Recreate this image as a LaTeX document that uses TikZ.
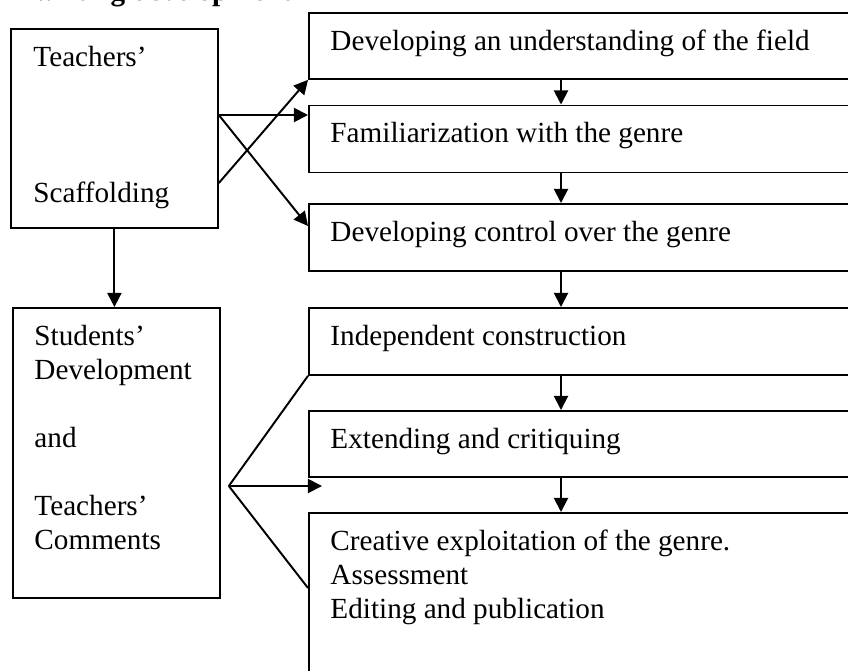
\documentclass[tikz,border=0pt]{standalone}
\usepackage{fontspec}
\setmainfont{Liberation Serif}
\usetikzlibrary{calc,arrows.meta}

\begin{document}
\begin{tikzpicture}[x=0.411pt, y=-0.411pt]
%styles
\tikzstyle{stage}=[rectangle, draw, line width=0.75pt, anchor=north west, inner sep=0pt, minimum width=600*0.411pt]
\tikzstyle{side}=[rectangle, draw, line width=0.75pt, anchor=north west, inner sep=0pt, minimum width=207*0.411pt]
\tikzstyle{boxtext}=[anchor=north west, inner sep=0pt, align=left, font=\fontsize{12}{14}\selectfont]
\tikzstyle{link}=[-{Triangle[length=5.8pt, width=5.8pt]}, line width=0.8pt]
\tikzstyle{plain}=[line width=0.8pt]

\useasboundingbox (0,0) rectangle (848,670);
\clip (0,0) rectangle (848,670);

%title, cut at the top
\node[anchor=base west, inner sep=0pt, font=\fontsize{12}{14}\selectfont\bfseries] (title) at (34,0.5) {writing development};

%left boxes
\node[side, minimum height=199*0.411pt] (scaf) at (10,28) {};
\node[side, minimum height=290*0.411pt] (stud) at (12,307) {};
\node[boxtext] (scaft) at ($(scaf.north west)+(23,14)$) {\strut Teachers'\\[42pt]Scaffolding};
\node[boxtext] (studt) at ($(stud.north west)+(22,14)$) {\strut Students'\\Development\\[14pt]and\\[14pt]Teachers'\\Comments};

%stages
\node[stage, minimum height=66*0.411pt] (field) at (308,12) {};
\node[stage, minimum height=67*0.411pt] (genre) at (308,104.5) {};
\node[stage, minimum height=67*0.411pt] (control) at (308,203) {};
\node[stage, minimum height=67*0.411pt] (indep) at (308,307) {};
\node[stage, minimum height=66*0.411pt] (crit) at (308,410) {};
\node[stage, minimum height=300*0.411pt] (creat) at (308,512) {};

\node[boxtext] (fieldt) at ($(field.north west)+(22,14)$) {\strut Developing an understanding of the field};
\node[boxtext] (genret) at ($(genre.north west)+(22,14)$) {\strut Familiarization with the genre};
\node[boxtext] (controlt) at ($(control.north west)+(22,14)$) {\strut Developing control over the genre};
\node[boxtext] (indept) at ($(indep.north west)+(22,14)$) {\strut Independent construction};
\node[boxtext] (critt) at ($(crit.north west)+(22,14)$) {\strut Extending and critiquing};
\node[boxtext] (creatt) at ($(creat.north west)+(22,14)$) {\strut Creative exploitation of the genre.\\Assessment\\Editing and publication};

%scaffolding arrows
\coordinate (s1) at ($(scaf.north east)+(0,87)$);
\coordinate (s2) at ($(scaf.north east)+(0,155)$);
\draw[link] (s1) -- (s1 -| genre.west);
\draw[link] (s1) -- ($(control.north west)+(0,23)$);
\draw[link] (s2) -- (field.south west);
\draw[link] (scaf.south) -- (scaf.south |- stud.north);

%stage to stage
\foreach \a/\b in {field/genre, genre/control, control/indep, indep/crit, crit/creat}
  \draw[link] ($(\a.south west)+(253,0)$) -- ($(\b.north west)+(253,0)$);

%students' fan
\coordinate (fan) at ($(stud.north east)+(8,179)$);
\coordinate (gap) at ($(fan -| crit.west)+(14,0)$);
\draw[plain] (fan) -- (indep.south west);
\draw[link] (fan) -- (gap);
\draw[plain] (fan) -- ($(creat.north west)+(0,76)$);

\end{tikzpicture}
\end{document}
